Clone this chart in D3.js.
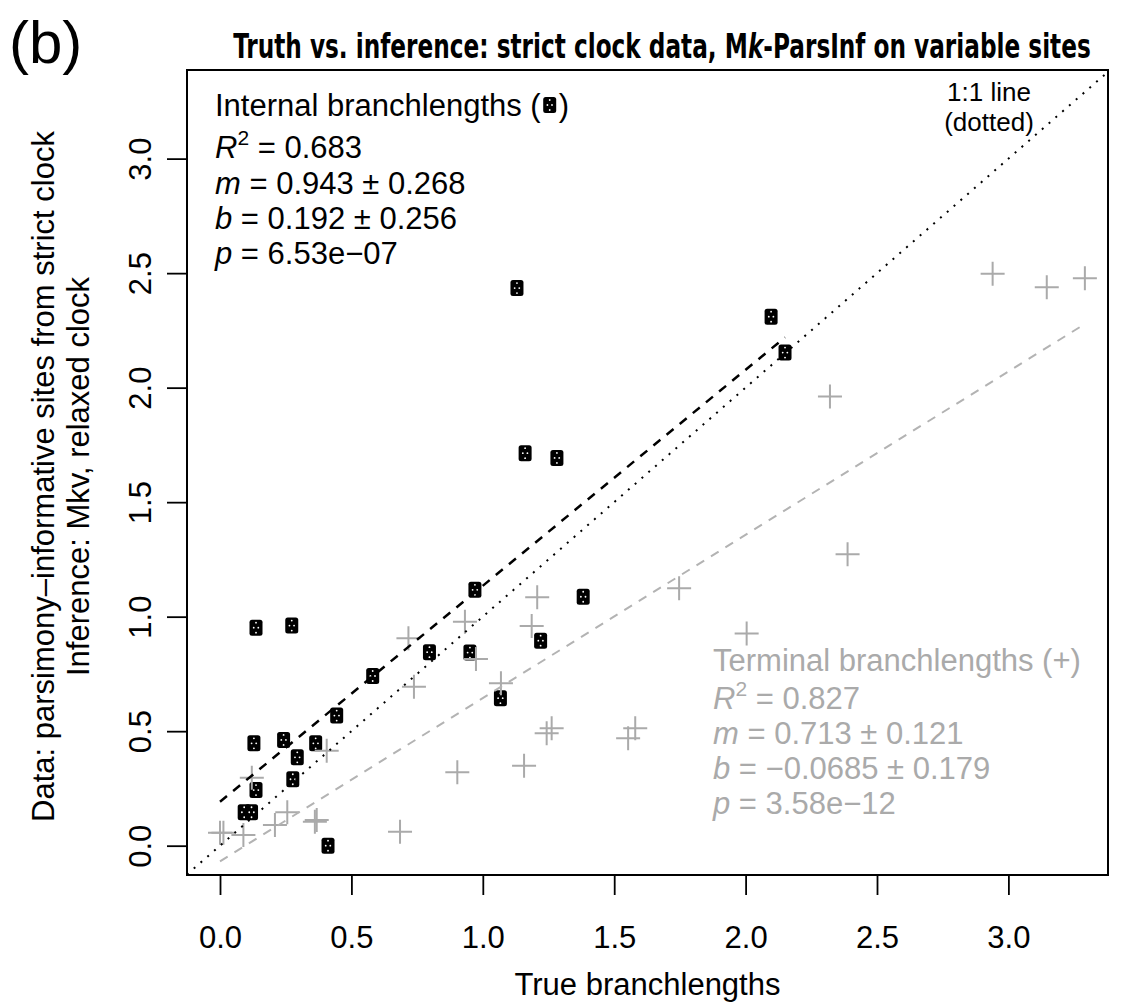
<!DOCTYPE html>
<html>
<head>
<meta charset="utf-8">
<style>
    body { margin: 0; background: #fff; }
    svg { font-family: "Liberation Sans", Arial, Helvetica, sans-serif; background: #fff; }
    .axis text { font-size: 31px; fill: #000; }
    .axis line { stroke: #000; stroke-width: 1.8px; }
    .axis path { display: none; }
</style>
<script src="https://cdn.jsdelivr.net/npm/d3@7"></script>
<title>Truth vs. inference</title>
</head>
<body>
<div id="chart"></div>
<script>
    // true vs inferred branchlengths, internal branches (squares)
    var internalTrue = [0.970, 1.382, 0.137, 0.273, 1.220, 0.797, 0.951, 0.581, 1.067, 0.444, 0.129, 0.242,
        0.364, 0.294, 0.277, 0.137, 0.092, 0.120, 0.411, 1.130, 2.097, 2.150, 1.161, 1.282];
    var internalInf = [1.117, 1.087, 0.952, 0.961, 0.895, 0.845, 0.843, 0.741, 0.644, 0.568, 0.447, 0.462,
        0.447, 0.386, 0.290, 0.243, 0.146, 0.146, 0.000, 2.435, 2.310, 2.153, 1.714, 1.693];

    // terminal branches (crosses)
    var terminalTrue = [2.940, 3.146, 3.291, 2.321, 2.388, 1.747, 2.004, 1.207, 0.932, 1.186, 0.717, 0.974,
        0.738, 1.069, 1.243, 1.262, 1.553, 1.580, 0.406, 0.903, 1.157, 0.121, 0.256, 0.209, 0.361, 0.368,
        0.685, 0.000, 0.013, 0.089];
    var terminalInf = [2.497, 2.438, 2.478, 1.961, 1.272, 1.124, 0.927, 1.085, 0.978, 0.959, 0.906, 0.815,
        0.694, 0.709, 0.491, 0.513, 0.469, 0.513, 0.415, 0.321, 0.349, 0.297, 0.146, 0.090, 0.105, 0.112,
        0.061, 0.057, 0.057, 0.047];

    // fitted lines: [slope, intercept]
    var internalFit = [0.943, 0.192];
    var terminalFit = [0.713, -0.0685];

    var ticks = [0, 0.5, 1.0, 1.5, 2.0, 2.5, 3.0];
    var internalStats = ["0.683", "0.943", "0.268", "0.192", "0.256", "6.53e\u221207"];
    var terminalStats = ["0.827", "0.713", "0.121", "\u22120.0685", "0.179", "3.58e\u221212"];

    var width = 1121, height = 1002;
    var box = { left: 187, right: 1108, top: 70, bottom: 875 };
    var xLim = [-0.1256, 3.379], yLim = [-0.128, 3.387];
    var grey = "#aaaaaa";

    var x = d3.scaleLinear().domain(xLim).range([box.left, box.right]);
    var y = d3.scaleLinear().domain(yLim).range([box.bottom, box.top]);

    var svg = d3.select("#chart").append("svg")
        .attr("width", width)
        .attr("height", height);

    svg.append("defs").append("clipPath")
        .attr("id", "clip")
        .append("rect")
        .attr("x", box.left).attr("y", box.top)
        .attr("width", box.right - box.left)
        .attr("height", box.bottom - box.top);

    // axes
    svg.append("g")
        .attr("class", "axis")
        .attr("transform", "translate(0," + box.bottom + ")")
        .call(d3.axisBottom(x).tickValues(ticks).tickFormat(d3.format(".1f")).tickSize(20).tickPadding(31));

    var yAx = svg.append("g")
        .attr("class", "axis")
        .attr("transform", "translate(" + box.left + ",0)")
        .call(d3.axisLeft(y).tickValues(ticks).tickFormat(d3.format(".1f")).tickSize(20));
    yAx.selectAll("text")
        .attr("x", null).attr("dy", null)
        .attr("text-anchor", "middle")
        .attr("transform", "translate(-36,0) rotate(-90)");

    var plot = svg.append("g").attr("clip-path", "url(#clip)");

    // internal branch squares
    var sq = plot.selectAll(".sq")
        .data(internalTrue.map(function (d, i) { return [d, internalInf[i]]; }))
        .enter().append("g")
        .attr("class", "sq")
        .attr("transform", function (d) { return "translate(" + x(d[0]) + "," + y(d[1]) + ")"; });
    drawGlyph(sq);

    // terminal branch crosses
    plot.selectAll(".cross")
        .data(terminalTrue.map(function (d, i) { return [d, terminalInf[i]]; }))
        .enter().append("path")
        .attr("class", "cross")
        .attr("d", function (d) {
            var cx = x(d[0]), cy = y(d[1]);
            return "M" + (cx - 12) + "," + cy + "H" + (cx + 12) + "M" + cx + "," + (cy - 12) + "V" + (cy + 12);
        })
        .attr("stroke", grey)
        .attr("stroke-width", 2)
        .attr("fill", "none");

    // regression lines
    var line = d3.line().x(function (d) { return x(d); });
    plot.append("path")
        .datum([0, d3.max(terminalTrue)])
        .attr("d", line.y(function (d) { return y(terminalFit[0] * d + terminalFit[1]); }))
        .attr("stroke", "#b3b3b3").attr("stroke-width", 2)
        .attr("stroke-dasharray", "9,8").attr("fill", "none");

    plot.append("path")
        .datum([0, d3.max(internalTrue)])
        .attr("d", line.y(function (d) { return y(internalFit[0] * d + internalFit[1]); }))
        .attr("stroke", "#000").attr("stroke-width", 2.5)
        .attr("stroke-dasharray", "9,8").attr("fill", "none");

    // 1:1 line
    plot.append("path")
        .datum(xLim)
        .attr("d", line.y(function (d) { return y(d); }))
        .attr("stroke", "#000").attr("stroke-width", 2)
        .attr("stroke-dasharray", "2,7").attr("fill", "none");

    // box
    svg.append("rect")
        .attr("x", box.left).attr("y", box.top)
        .attr("width", box.right - box.left)
        .attr("height", box.bottom - box.top)
        .attr("fill", "none").attr("stroke", "#000").attr("stroke-width", 2);

    // labels
    svg.append("text")
        .attr("x", (box.left + box.right) / 2).attr("y", 995)
        .attr("text-anchor", "middle").style("font-size", "31px")
        .text("True branchlengths");

    var yl = svg.append("text")
        .attr("transform", "translate(0," + ((box.top + box.bottom) / 2 + 4) + ") rotate(-90)")
        .attr("text-anchor", "middle").style("font-size", "31px");
    yl.append("tspan").attr("x", 0).attr("y", 54).text("Data: parsimony\u2013informative sites from strict clock");
    yl.append("tspan").attr("x", 0).attr("y", 89).text("Inference: Mkv, relaxed clock");

    svg.append("text")
        .attr("x", 9).attr("y", 63)
        .style("font-size", "60px")
        .style("font-weight", "300")
        .text("(b)");

    // title, squeezed to the reference width
    var title = svg.append("text")
        .attr("text-anchor", "middle")
        .style("font-family", "'Liberation Sans Narrow', 'DejaVu Sans Condensed', 'Liberation Sans', sans-serif")
        .style("font-weight", "bold").style("font-size", "33px");
    title.append("tspan").text("Truth vs. inference: strict clock data, M");
    title.append("tspan").style("font-style", "italic").text("k");
    title.append("tspan").text("-ParsInf on variable sites");
    var tw = title.node().getBBox().width;
    title.attr("transform", "translate(662,58) scale(" + (858 / tw) + ",1)");

    var t11 = svg.append("text").attr("text-anchor", "middle").style("font-size", "26px");
    t11.append("tspan").attr("x", 989).attr("y", 101).text("1:1 line");
    t11.append("tspan").attr("x", 989).attr("y", 131).text("(dotted)");

    statsBlock(215, [116, 158, 194, 229, 264], "#000", "Internal branchlengths (", internalStats, true);
    statsBlock(713, [671, 709, 744, 779, 814], grey, "Terminal branchlengths (+)", terminalStats, false);

    function drawGlyph(g) {
        g.append("rect")
            .attr("x", -6.5).attr("y", -8).attr("width", 13).attr("height", 16)
            .attr("rx", 2.5).attr("fill", "#000");
        [[0, -5], [-2.3, 0], [2.3, 0], [0, 5]].forEach(function (p) {
            g.append("circle").attr("cx", p[0]).attr("cy", p[1]).attr("r", 0.9).attr("fill", "#fff");
        });
    }

    function statsBlock(x0, ys, color, head, s, glyph) {
        var g = svg.append("g").attr("fill", color).style("font-size", "31px");
        var h = g.append("text").attr("x", x0).attr("y", ys[0]).text(head);
        if (glyph) {
            var w = h.node().getComputedTextLength();
            var gg = g.append("g").attr("transform", "translate(" + (x0 + w + 9) + "," + (ys[0] - 11) + ")");
            drawGlyph(gg);
            g.append("text").attr("x", x0 + w + 18).attr("y", ys[0]).text(")");
        }
        var r = g.append("text").attr("x", x0).attr("y", ys[1]);
        r.append("tspan").style("font-style", "italic").text("R");
        r.append("tspan").attr("dy", -13).style("font-size", "21px").text("2");
        r.append("tspan").attr("dy", 13).text(" = " + s[0]);

        var m = g.append("text").attr("x", x0).attr("y", ys[2]);
        m.append("tspan").style("font-style", "italic").text("m");
        m.append("tspan").text(" = " + s[1] + " \u00b1 " + s[2]);

        var b = g.append("text").attr("x", x0).attr("y", ys[3]);
        b.append("tspan").style("font-style", "italic").text("b");
        b.append("tspan").text(" = " + s[3] + " \u00b1 " + s[4]);

        var p = g.append("text").attr("x", x0).attr("y", ys[4]);
        p.append("tspan").style("font-style", "italic").text("p");
        p.append("tspan").text(" = " + s[5]);
    }
</script>
</body>
</html>
